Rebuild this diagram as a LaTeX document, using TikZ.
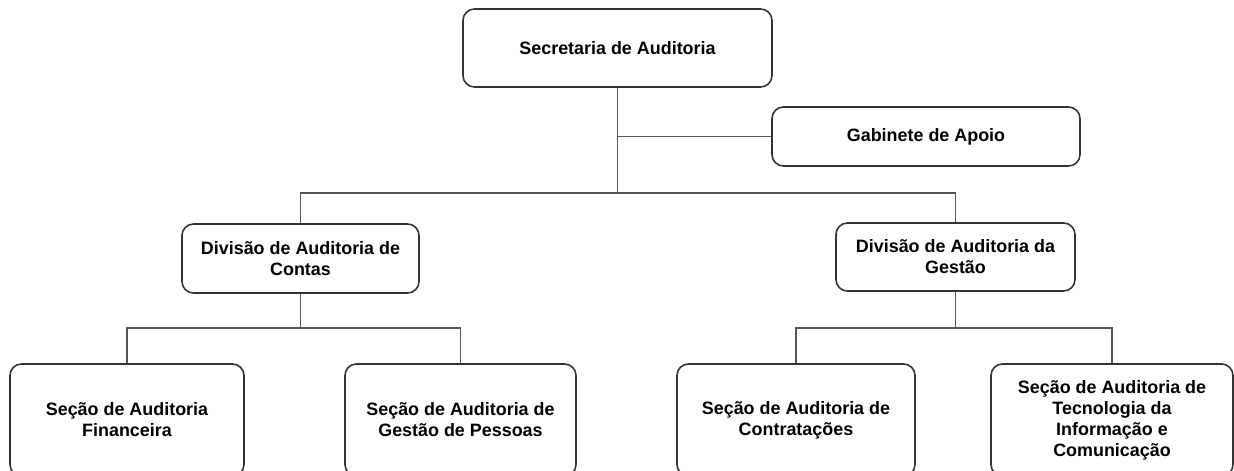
\documentclass[tikz,border=0pt]{standalone}
\usepackage{fontspec}
\setmainfont{Liberation Sans}
\usepackage{tikz}
\usetikzlibrary{positioning}

\definecolor{boxline}{HTML}{333333}
\definecolor{linkline}{HTML}{555555}

\tikzset{
	unit/.style={draw=boxline,line width=0.9pt,rounded corners=6.5pt,fill=white,
		align=center,inner sep=0pt,font=\fontsize{10.2}{12}\selectfont\bfseries},
	link/.style={draw=linkline,line width=0.7pt}
}

\begin{document}
\begin{tikzpicture}[x=0.02cm,y=-0.02cm]
			\useasboundingbox (0,0) rectangle (1234,470);

			% Top
			\node[unit,minimum width=309*0.02cm,minimum height=78*0.02cm] (sec) at (617.5,48) {Secretaria de Auditoria};
			\node[unit,minimum width=308*0.02cm,minimum height=59*0.02cm] (gab) at (926,136.5) {Gabinete de Apoio};

			% Divisions
			\node[unit,minimum width=237*0.02cm,minimum height=69*0.02cm] (divContas) at (300.5,258.5) {Divisão de Auditoria de\\Contas};
			\node[unit,minimum width=239*0.02cm,minimum height=68*0.02cm] (divGestao) at (955.5,257) {Divisão de Auditoria da\\Gestão};

			% Sections
			\node[unit,minimum width=234*0.02cm,minimum height=112*0.02cm] (secFin) at (127,420) {Seção de Auditoria\\Financeira};
			\node[unit,minimum width=231*0.02cm,minimum height=112*0.02cm] (secPes) at (460.5,420) {Seção de Auditoria de\\Gestão de Pessoas};
			\node[unit,minimum width=238*0.02cm,minimum height=112*0.02cm] (secCon) at (796,420) {Seção de Auditoria de\\Contratações};
			\node[unit,minimum width=242*0.02cm,minimum height=112*0.02cm] (secTic) at (1112,420) {Seção de Auditoria de\\Tecnologia da\\Informação e\\Comunicação};

			% Connectors
			\coordinate (busTop) at (617.5,193);
			\coordinate (busContas) at (300.5,328);
			\coordinate (busGestao) at (955.5,328);
			\draw[link] (sec.south) -- (busTop);
			\draw[link] (sec.south |- gab.west) -- (gab.west);
			\draw[link] (divContas.north) |- (busTop) -| (divGestao.north);
			\draw[link] (divContas.south) -- (busContas);
			\draw[link] (secFin.north) |- (busContas) -| (secPes.north);
			\draw[link] (divGestao.south) -- (busGestao);
			\draw[link] (secCon.north) |- (busGestao) -| (secTic.north);
		\end{tikzpicture}
\end{document}
